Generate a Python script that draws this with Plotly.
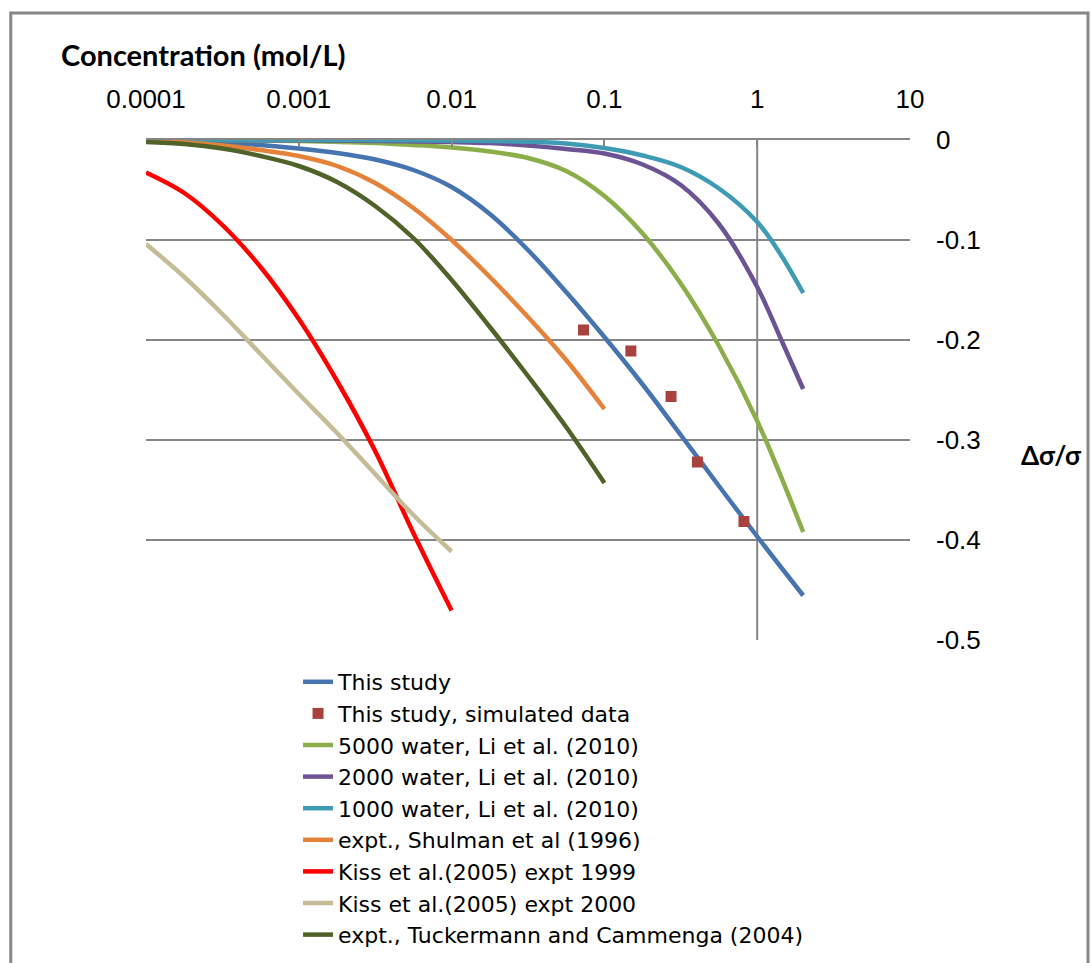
import plotly.graph_objects as go

# ---- data (concentration mol/L, delta sigma / sigma) ----
study_x = [1e-4, 1.78e-4, 3.16e-4, 5.62e-4, 1e-3, 1.78e-3, 3.16e-3, 5.62e-3, 0.01,
           0.0178, 0.0316, 0.0562, 0.1, 0.178, 0.316, 0.562, 1, 2]
study_y = [-0.001, -0.002, -0.003, -0.005, -0.0085, -0.013, -0.0195, -0.030, -0.047,
           -0.074, -0.110, -0.152, -0.197, -0.2445, -0.295, -0.346, -0.3965, -0.4555]

sim_x = [0.073, 0.149, 0.273, 0.406, 0.819]
sim_y = [-0.190, -0.211, -0.2565, -0.322, -0.3815]

w5000_x = [1e-4, 3.16e-4, 1e-3, 3.16e-3, 5.62e-3, 0.01, 0.0178, 0.0316, 0.0562,
           0.1, 0.178, 0.316, 0.562, 1, 2]
w5000_y = [0.0, -0.0003, -0.001, -0.003, -0.005, -0.0075, -0.0115, -0.018, -0.031,
           -0.056, -0.0935, -0.1435, -0.206, -0.281, -0.392]

w2000_x = [1e-4, 1e-3, 3.16e-3, 0.01, 0.0178, 0.0316, 0.0562, 0.1, 0.178, 0.316,
           0.562, 1, 1.41, 2]
w2000_y = [0.0, -0.0003, -0.001, -0.002, -0.003, -0.0055, -0.009, -0.0135, -0.0245, -0.045,
           -0.084, -0.147, -0.197, -0.249]

w1000_x = [1e-4, 1e-3, 0.01, 0.0316, 0.0562, 0.1, 0.178, 0.316, 0.562, 1, 1.41, 2]
w1000_y = [0.0, 0.0, -0.0005, -0.0017, -0.0035, -0.008, -0.0155, -0.027, -0.0485,
           -0.082, -0.1135, -0.153]

shulman_x = [1e-4, 1.78e-4, 3.16e-4, 5.62e-4, 1e-3, 1.78e-3, 3.16e-3, 5.62e-3, 0.01,
             0.0178, 0.0316, 0.0562, 0.1]
shulman_y = [-0.001, -0.0025, -0.0055, -0.010, -0.016, -0.026, -0.043, -0.068, -0.100,
             -0.137, -0.177, -0.220, -0.269]

kiss99_x = [1e-4, 1.78e-4, 3.16e-4, 5.62e-4, 1e-3, 1.78e-3, 3.16e-3, 5.62e-3, 0.01]
kiss99_y = [-0.0325, -0.053, -0.085, -0.127, -0.179, -0.241, -0.311, -0.393, -0.4705]

kiss00_x = [1e-4, 1.78e-4, 3.16e-4, 5.62e-4, 1e-3, 1.78e-3, 3.16e-3, 5.62e-3, 0.01]
kiss00_y = [-0.104, -0.137, -0.174, -0.214, -0.254, -0.293, -0.334, -0.375, -0.4115]

tuck_x = [1e-4, 1.78e-4, 3.16e-4, 5.62e-4, 1e-3, 1.78e-3, 3.16e-3, 5.62e-3, 0.01,
          0.0178, 0.0316, 0.0562, 0.1]
tuck_y = [-0.002, -0.004, -0.0085, -0.016, -0.026, -0.042, -0.066, -0.098, -0.140,
          -0.187, -0.236, -0.287, -0.343]

x_ticks = [1e-4, 1e-3, 1e-2, 1e-1, 1, 10]
x_ticktext = ["0.0001", "0.001", "0.01", "0.1", "1", "10"]
y_ticks = [0, -0.1, -0.2, -0.3, -0.4, -0.5]
y_ticktext = ["0", "-0.1", "-0.2", "-0.3", "-0.4", "-0.5"]
axis_cross_x = [1, 1]
axis_cross_y = [-0.5, 0]

AX = "#868686"

fig = go.Figure()

# vertical axis line crossing at x = 1
fig.add_trace(go.Scatter(x=axis_cross_x, y=axis_cross_y, mode="lines",
                         line=dict(color=AX, width=2), showlegend=False, hoverinfo="skip"))

line_series = [
    ("This study", study_x, study_y, "#4674B0", 1),
    ("5000 water, Li et al. (2010)", w5000_x, w5000_y, "#8BAE4A", 3),
    ("2000 water, Li et al. (2010)", w2000_x, w2000_y, "#6C5494", 4),
    ("1000 water, Li et al. (2010)", w1000_x, w1000_y, "#3F9AB3", 5),
    ("expt., Shulman et al (1996)", shulman_x, shulman_y, "#E5823A", 6),
    ("Kiss et al.(2005) expt 1999", kiss99_x, kiss99_y, "#FF0000", 7),
    ("Kiss et al.(2005) expt 2000", kiss00_x, kiss00_y, "#C4BC96", 8),
    ("expt., Tuckermann and Cammenga (2004)", tuck_x, tuck_y, "#4F6228", 9),
]
for name, xs, ys, col, rank in line_series:
    fig.add_trace(go.Scatter(x=xs, y=ys, mode="lines", name=name,
                             line=dict(color=col, width=4.5, shape="spline", smoothing=1.0),
                             legendrank=rank, legendgroup=name))

fig.add_trace(go.Scatter(x=sim_x, y=sim_y, mode="markers", name="This study, simulated data",
                         marker=dict(symbol="square", size=11, color="#A8423F"),
                         legendrank=2, legendgroup="sim"))

fig.update_layout(
    width=1091, height=963,
    paper_bgcolor="white", plot_bgcolor="white",
    margin=dict(l=146, r=181, t=140, b=323, autoexpand=False),
    showlegend=True,
    legend=dict(x=0.199, y=-0.042, xanchor="left", yanchor="top",
                font=dict(family="DejaVu Sans", size=22, color="black"),
                bgcolor="rgba(0,0,0,0)", tracegroupgap=0),
    xaxis=dict(type="log", range=[-4, 1], side="top",
               tickvals=x_ticks, ticktext=x_ticktext,
               tickfont=dict(family="Liberation Sans", size=26, color="black"),
               showline=True, linecolor=AX, linewidth=2,
               ticks="inside", ticklen=7, tickcolor=AX, tickwidth=2,
               showgrid=False, zeroline=False, ticklabelstandoff=20),
    yaxis=dict(range=[-0.5, 0], side="right",
               tickvals=y_ticks, ticktext=y_ticktext,
               tickfont=dict(family="Liberation Sans", size=26, color="black"),
               showgrid=True, gridcolor=AX, gridwidth=1.5,
               showline=False, zeroline=False, ticks="", ticklabelstandoff=25),
    annotations=[
        dict(text="<b>Concentration (mol/L)</b>", xref="paper", yref="paper",
             x=-0.114, y=1.172, xanchor="left", yanchor="middle", showarrow=False,
             font=dict(family="Lato", size=29, color="black")),
        dict(text="<b>Δσ/σ</b>", xref="paper", yref="paper",
             x=1.143, y=0.37, xanchor="left", yanchor="middle", showarrow=False,
             font=dict(family="Lato", size=26, color="black")),
    ],
    shapes=[
        dict(type="path", xref="paper", yref="paper",
             path="M -0.177,-0.75 L -0.177,1.254 L 1.233,1.254 L 1.233,-0.75",
             line=dict(color=AX, width=3), fillcolor="rgba(0,0,0,0)", layer="below"),
    ],
)

fig.write_html("out.html", config={"displayModeBar": False},
               post_script="document.body.style.margin='0px';")
